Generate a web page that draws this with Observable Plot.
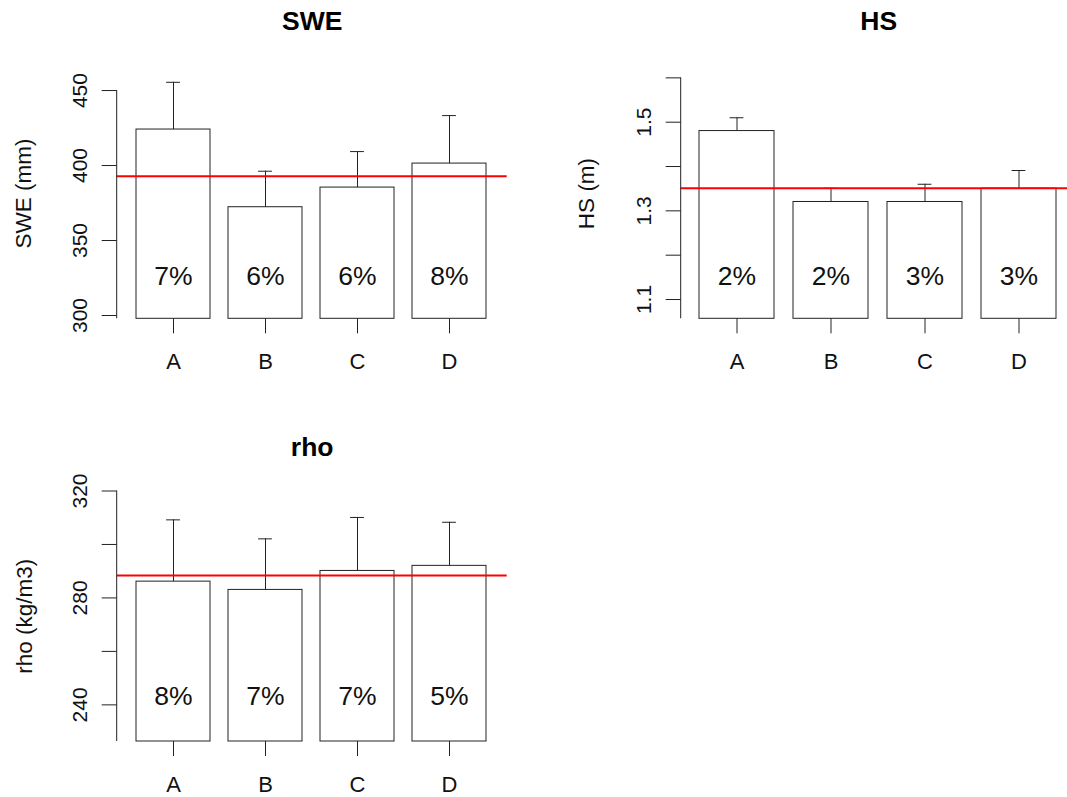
<!DOCTYPE html>
<html>
<head>
<meta charset="utf-8">
<script src="https://cdn.jsdelivr.net/npm/d3@7"></script>
<script src="https://cdn.jsdelivr.net/npm/@observablehq/plot@0.6"></script>
<style>
  html, body { margin: 0; padding: 0; background: #fff; overflow: hidden; }
  #root { position: relative; width: 1067px; height: 797px; overflow: hidden; background: #fff; }
  #root > div, #root > svg { position: absolute; }
  #root svg g[aria-label="x-axis tick label"] { font-size: 22px; }
  #root svg g[aria-label="y-axis tick label"] { font-size: 21px; }
</style>
</head>
<body>
<div id="root"></div>
<script>
// ---------- data ----------
const categories = ["A", "B", "C", "D"];

const sweMean  = [424.0, 372.2, 385.3, 401.3];
const sweUpper = [455.5, 396.2, 409.3, 433.3];
const swePct   = ["7%", "6%", "6%", "8%"];
const sweRef   = 392.9;
const sweLimits = [297.8, 464.9];
const sweTicks = [300, 350, 400, 450];
const sweTickLabels = ["300", "350", "400", "450"];

const hsMean  = [1.48, 1.32, 1.32, 1.35];
const hsUpper = [1.51, 1.351, 1.36, 1.391];
const hsPct   = ["2%", "2%", "3%", "3%"];
const hsRef   = 1.351;
const hsLimits = [1.0565, 1.6218];
const hsTicks = [1.1, 1.2, 1.3, 1.4, 1.5, 1.6];
const hsTickLabels = ["1.1", "", "1.3", "", "1.5", ""];

const rhoMean  = [286.1, 283.0, 290.1, 292.0];
const rhoUpper = [309.2, 302.1, 310.1, 308.3];
const rhoPct   = ["8%", "7%", "7%", "5%"];
const rhoRef   = 288.4;
const rhoLimits = [226.3, 320];
const rhoTicks = [240, 260, 280, 300, 320];
const rhoTickLabels = ["240", "", "280", "", "320"];

// ---------- drawing ----------
const FONT = "'Liberation Sans', Arial, Helvetica, sans-serif";
const INK = "#222";

function panel(cfg) {
  const rows = categories.map((c, i) => ({cat: c, mean: cfg.mean[i], upper: cfg.upper[i], pct: cfg.pct[i]}));
  const bw = (cfg.xRange[1] - cfg.xRange[0]) / 3.8 * 0.8;
  const capInset = (bw - 14) / 2;
  const axisLine = (index, scales, values, dimensions) => {
    const el = document.createElementNS("http://www.w3.org/2000/svg", "line");
    const x = dimensions.marginLeft;
    el.setAttribute("x1", x); el.setAttribute("x2", x);
    el.setAttribute("y1", scales.y(cfg.limits[0]));
    el.setAttribute("y2", scales.y(cfg.ticks[cfg.ticks.length - 1]));
    el.setAttribute("stroke", INK);
    el.setAttribute("stroke-width", 1);
    return el;
  };
  const chart = Plot.plot({
    width: cfg.width,
    height: cfg.height,
    marginLeft: cfg.marginLeft,
    marginRight: cfg.marginRight,
    marginTop: cfg.marginTop,
    marginBottom: cfg.marginBottom,
    style: {fontFamily: FONT, background: "transparent", overflow: "visible", color: "#000"},
    x: {type: "band", domain: categories, range: cfg.xRange, paddingInner: 0.2, paddingOuter: 0},
    y: {domain: cfg.limits},
    marks: [
      Plot.barY(rows, {x: "cat", y1: cfg.limits[0], y2: "mean", fill: "white", stroke: INK, strokeWidth: 1}),
      Plot.ruleX(rows, {x: "cat", y1: "mean", y2: "upper", stroke: INK, strokeWidth: 1}),
      Plot.tickY(rows, {x: "cat", y: "upper", stroke: INK, strokeWidth: 1, insetLeft: capInset, insetRight: capInset}),
      Plot.ruleY([cfg.ref], {stroke: "#ff0000", strokeWidth: 2}),
      Plot.text(rows, {x: "cat", frameAnchor: "bottom", lineAnchor: "middle", dy: cfg.pctDy, text: "pct", fontSize: 26.5, fill: "#111"}),
      Plot.axisX({tickSize: 15, tickPadding: 19.5, fontSize: 22, label: null, stroke: INK, fill: "#111"}),
      Plot.axisY({ticks: cfg.ticks, tickFormat: d => cfg.tickLabels[cfg.ticks.indexOf(d)],
                  tickSize: 15, tickPadding: 15, tickRotate: -90, fontSize: 21, label: null, stroke: INK, fill: "#111"}),
      axisLine,
      Plot.text([cfg.ylabel], {text: d => d, frameAnchor: "left", textAnchor: "middle", lineAnchor: "middle",
                               dx: cfg.ylabelDx, rotate: -90, fontSize: 22.5, fill: "#111"}),
      Plot.text([cfg.title], {text: d => d, frameAnchor: "top", textAnchor: "middle", lineAnchor: "middle",
                              dy: cfg.titleDy, fontSize: 26.5, fontWeight: "bold", fill: "#000"})
    ]
  });
  chart.style.left = cfg.left + "px";
  chart.style.top = cfg.top + "px";
  document.getElementById("root").appendChild(chart);
}

panel({
  title: "SWE", ylabel: "SWE (mm)",
  mean: sweMean, upper: sweUpper, pct: swePct, ref: sweRef,
  limits: sweLimits, ticks: sweTicks, tickLabels: sweTickLabels,
  left: 0, top: 0, width: 533, height: 398,
  marginLeft: 116.7, marginRight: 26.3, marginTop: 67.7, marginBottom: 79.7,
  xRange: [135, 487.3], titleDy: -46.7, ylabelDx: -93.4, pctDy: -42.5
});

panel({
  title: "HS", ylabel: "HS (m)",
  mean: hsMean, upper: hsUpper, pct: hsPct, ref: hsRef,
  limits: hsLimits, ticks: hsTicks, tickLabels: hsTickLabels,
  left: 533, top: 0, width: 560, height: 398,
  marginLeft: 147.7, marginRight: 17.3, marginTop: 67.7, marginBottom: 79.7,
  xRange: [166.3, 523.7], titleDy: -46.5, ylabelDx: -94.9, pctDy: -42.5
});

panel({
  title: "rho", ylabel: "rho (kg/m3)",
  mean: rhoMean, upper: rhoUpper, pct: rhoPct, ref: rhoRef,
  limits: rhoLimits, ticks: rhoTicks, tickLabels: rhoTickLabels,
  left: 0, top: 398, width: 533, height: 399,
  marginLeft: 116.7, marginRight: 26.3, marginTop: 92.5, marginBottom: 56,
  xRange: [135, 487.3], titleDy: -43.8, ylabelDx: -92.7, pctDy: -44.5
});
</script>
</body>
</html>
